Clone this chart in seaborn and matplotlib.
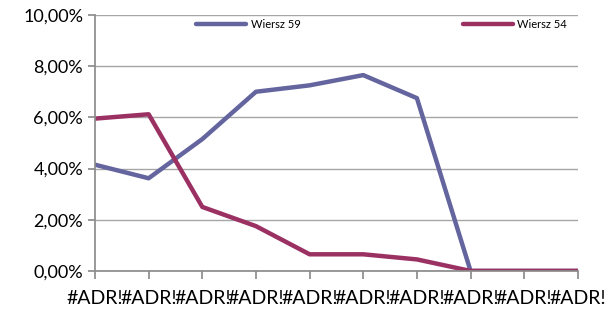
import numpy as np
import pandas as pd
import seaborn as sns
import matplotlib.pyplot as plt
from matplotlib.ticker import FuncFormatter

sns.set_theme(style='white')
plt.rcParams['font.family'] = ['Lato', 'DejaVu Sans']

# data (percent)
labels = ['#ADR!'] * 10
positions = list(range(10))
wiersz_59 = [4.15, 3.62, 5.15, 7.0, 7.25, 7.65, 6.75, 0.0, 0.0, 0.0]
wiersz_54 = [5.95, 6.12, 2.5, 1.75, 0.65, 0.65, 0.45, 0.0, 0.0, 0.0]
series_names = ['Wiersz 59', 'Wiersz 54']
colors = ['#64649f', '#9b3163']

df = pd.DataFrame({
    'pos': positions * 2,
    'value': wiersz_59 + wiersz_54,
    'series': [series_names[0]] * 10 + [series_names[1]] * 10,
})

fig = plt.figure(figsize=(6.07, 3.18), dpi=100)
ax = fig.add_axes([0.1565, 0.148, 0.7955, 0.805])
sns.lineplot(data=df, x='pos', y='value', hue='series', palette=colors,
             linewidth=3.2, ax=ax, legend=True)

ax.set_xlim(0, 9)
ax.set_ylim(0, 10)
ax.set_yticks(np.arange(0, 10.1, 2))
ax.yaxis.set_major_formatter(FuncFormatter(lambda v, p: f'{v:.2f}'.replace('.', ',') + '%'))
ax.set_xticks(positions)
ax.set_xticklabels(labels)
ax.grid(axis='y', color='#a6a6a6', linewidth=1)
ax.set_axisbelow(True)
for s in ['top', 'right']:
    ax.spines[s].set_visible(False)
for s in ['left', 'bottom']:
    ax.spines[s].set_color('#8c8c8c')
ax.tick_params(axis='x', length=6, color='#8c8c8c', labelsize=14, labelcolor='black',
               pad=8, direction='out', bottom=True)
ax.tick_params(axis='y', length=5, color='#8c8c8c', labelsize=13, labelcolor='black',
               direction='out', left=True)
ax.set_xlabel('')
ax.set_ylabel('')

ax.legend(loc='upper center', bbox_to_anchor=(0.594, 1.025), ncol=2, frameon=False,
          fontsize=8, columnspacing=14.6, handlelength=4.5, handletextpad=0.4,
          labelcolor='black')

fig.savefig('out.png', dpi=100)
